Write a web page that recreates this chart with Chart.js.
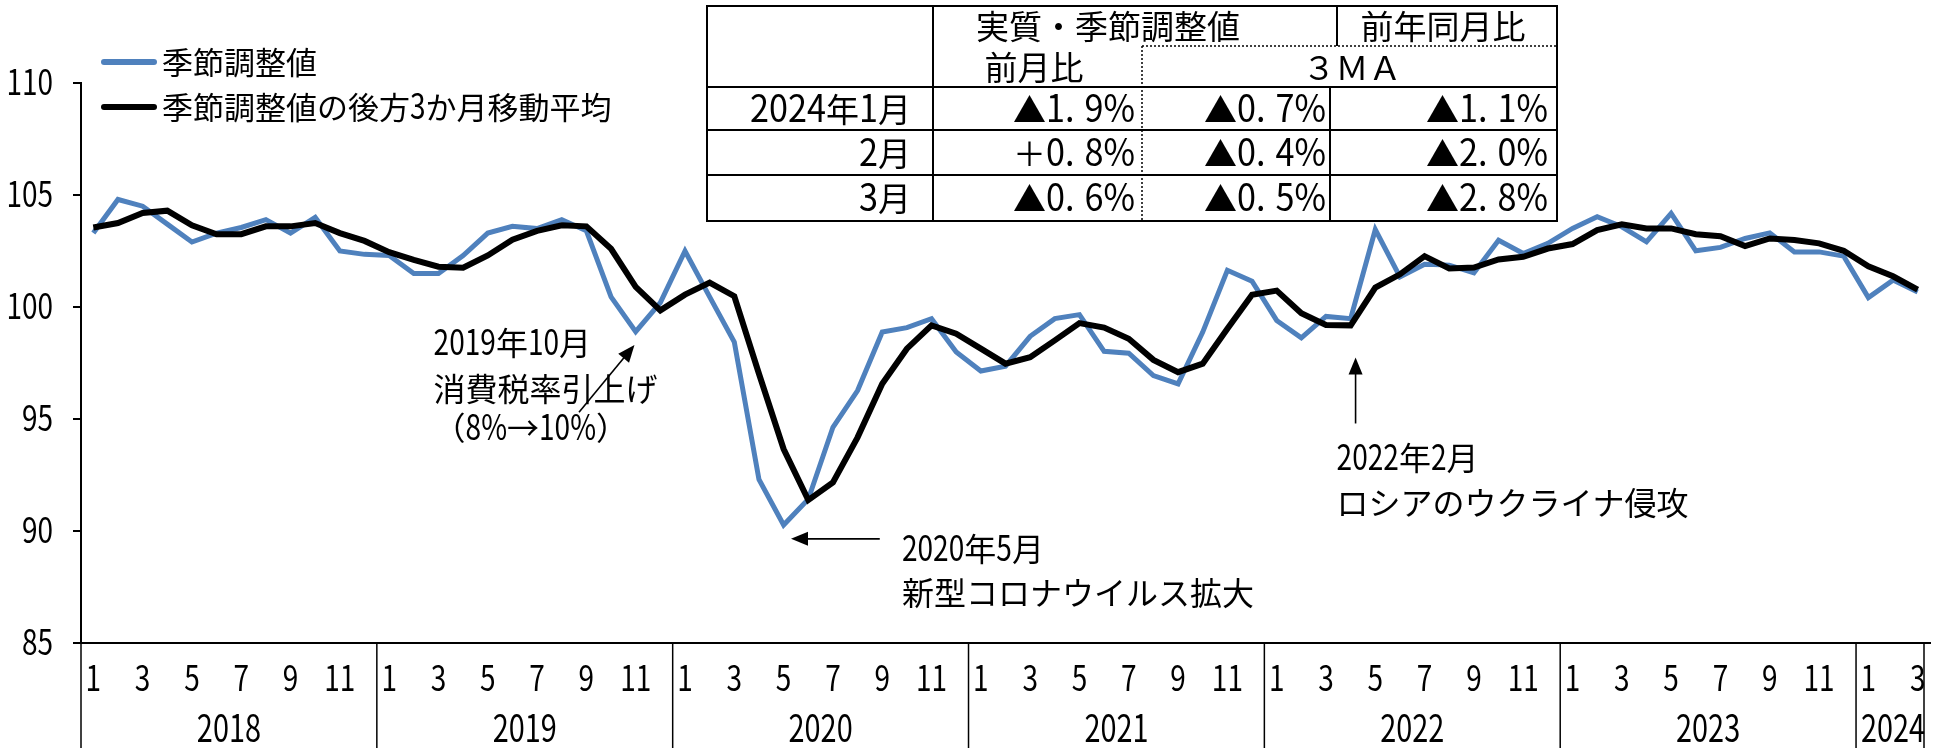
<!DOCTYPE html>
<html lang="ja">
<head>
<meta charset="UTF-8">
<title>季節調整値と後方3か月移動平均</title>
<script src="https://cdn.jsdelivr.net/npm/chart.js"></script>
<style>
    html, body { margin: 0; padding: 0; background: #fff; }
    #wrap { width: 1944px; height: 748px; }
</style>
</head>
<body>
<div id="wrap"><canvas id="chart" width="1944" height="748"></canvas></div>
<script>
    // --- data ---
    const years = ['2018', '2019', '2020', '2021', '2022', '2023', '2024'];
    const monthsInYear = [12, 12, 12, 12, 12, 12, 3];

    const seasonallyAdjusted = [
        103.3, 104.8, 104.5, 103.7, 102.9, 103.3, 103.55, 103.9, 103.3, 104.0, 102.5, 102.35,
        102.3, 101.5, 101.5, 102.3, 103.3, 103.6, 103.5, 103.9, 103.4, 100.45, 98.9, 100.2,
        102.5, 100.45, 98.43, 92.3, 90.27, 91.42, 94.63, 96.27, 98.88, 99.08, 99.48, 97.99,
        97.14, 97.36, 98.69, 99.48, 99.66, 98.02, 97.94, 96.94, 96.57, 98.88, 101.64, 101.15,
        99.4, 98.62, 99.58, 99.48, 103.46, 101.34, 101.91, 101.87, 101.52, 102.98, 102.39, 102.84,
        103.51, 104.03, 103.58, 102.91, 104.18, 102.51, 102.66, 103.06, 103.31, 102.46, 102.46, 102.27,
        100.42, 101.2, 100.67
    ];
    const movingAverage3 = [
        103.55, 103.75, 104.2, 104.3, 103.65, 103.25, 103.25, 103.6, 103.6, 103.75, 103.3, 102.95,
        102.45, 102.1, 101.8, 101.75, 102.3, 103.0, 103.4, 103.65, 103.6, 102.6, 100.9, 99.85,
        100.55, 101.09, 100.48, 97.02, 93.66, 91.38, 92.17, 94.18, 96.57, 98.14, 99.18, 98.81,
        98.14, 97.47, 97.76, 98.51, 99.28, 99.08, 98.58, 97.64, 97.09, 97.47, 99.03, 100.55,
        100.73, 99.72, 99.2, 99.18, 100.87, 101.46, 102.27, 101.72, 101.76, 102.12, 102.24, 102.61,
        102.81, 103.43, 103.69, 103.51, 103.51, 103.25, 103.16, 102.72, 103.06, 102.99, 102.84, 102.51,
        101.82, 101.37, 100.78
    ];

    const yTickValues = [85, 90, 95, 100, 105, 110];
    const monthTickLabels = ['1', '', '3', '', '5', '', '7', '', '9', '', '11', ''];

    const tableRowLabels = ['2024年1月', '2月', '3月'];
    const tableMoM = ['▲1.9%', '＋0.8%', '▲0.6%'];
    const table3MA = ['▲0.7%', '▲0.4%', '▲0.5%'];
    const tableYoY = ['▲1.1%', '▲2.0%', '▲2.8%'];

    const seriesNames = ['季節調整値', '季節調整値の後方3か月移動平均'];
    const BLUE = '#4F81BD';
    const FONT = '"Noto Sans CJK JP", sans-serif';

    // category labels built from years and month counts
    const labels = [];
    const monthOf = [];
    years.forEach((y, k) => {
        for (let m = 1; m <= monthsInYear[k]; m++) {
            labels.push(y + '/' + m);
            monthOf.push(m);
        }
    });

    // text with tall, narrow latin digits (like the original font)
    function splitRuns(text) {
        const out = [];
        for (const ch of text) {
            const latin = /[\x20-\x7e]/.test(ch);
            const last = out[out.length - 1];
            if (last && last.latin === latin) last.s += ch;
            else out.push({ s: ch, latin: latin });
        }
        return out;
    }

    function runWidth(ctx, run, o) {
        if (run.latin) {
            ctx.font = o.latin + 'px ' + FONT;
            let w = 0;
            for (const ch of run.s) w += ctx.measureText(ch).width * o.sx + (ch === '.' ? (o.dot || 0) : 0);
            return w;
        }
        ctx.font = o.cjk + 'px ' + FONT;
        return ctx.measureText(run.s).width;
    }

    function drawText(ctx, text, x, cy, align, o) {
        const runs = splitRuns(text);
        const ws = runs.map(r => runWidth(ctx, r, o));
        const total = ws.reduce((a, b) => a + b, 0);
        let cx = align === 'center' ? x - total / 2 : align === 'right' ? x - total : x;
        const base = cy + 0.33 * o.latin;
        ctx.textAlign = 'left';
        ctx.textBaseline = 'alphabetic';
        runs.forEach((r, i) => {
            if (r.latin) {
                ctx.font = o.latin + 'px ' + FONT;
                let lx = cx;
                for (const ch of r.s) {
                    ctx.save();
                    ctx.translate(lx, base);
                    ctx.scale(o.sx, 1);
                    ctx.fillText(ch, 0, 0);
                    ctx.restore();
                    lx += ctx.measureText(ch).width * o.sx + (ch === '.' ? (o.dot || 0) : 0);
                }
            } else {
                ctx.font = o.cjk + 'px ' + FONT;
                ctx.fillText(r.s, cx, base);
            }
            cx += ws[i];
        });
    }

    function line(ctx, x0, y0, x1, y1) {
        ctx.beginPath();
        ctx.moveTo(x0, y0);
        ctx.lineTo(x1, y1);
        ctx.stroke();
    }

    function arrow(ctx, x0, y0, x1, y1) {
        const ang = Math.atan2(y1 - y0, x1 - x0);
        const len = 17, w = 7;
        ctx.lineWidth = 1.6;
        line(ctx, x0, y0, x1 - Math.cos(ang) * len * 0.8, y1 - Math.sin(ang) * len * 0.8);
        ctx.beginPath();
        ctx.moveTo(x1, y1);
        ctx.lineTo(x1 - Math.cos(ang) * len - Math.sin(ang) * w, y1 - Math.sin(ang) * len + Math.cos(ang) * w);
        ctx.lineTo(x1 - Math.cos(ang) * len + Math.sin(ang) * w, y1 - Math.sin(ang) * len - Math.cos(ang) * w);
        ctx.closePath();
        ctx.fill();
    }

    const TICK = { latin: 35, cjk: 31, sx: 0.8 };
    const YEAR = { latin: 38, cjk: 31, sx: 0.76 };
    const NOTE = { latin: 36, cjk: 32, sx: 0.78 };
    const LEG = { latin: 35, cjk: 31, sx: 0.8 };
    const TAB = { latin: 38, cjk: 33, sx: 0.9, dot: 10 };

    const decorPlugin = {
        id: 'decor',
        afterDraw(chart) {
            const ctx = chart.ctx;
            const xs = chart.scales.x, ys = chart.scales.y;
            const area = chart.chartArea;
            const px = i => xs.getPixelForValue(i);
            const py = v => ys.getPixelForValue(v);
            ctx.save();
            ctx.fillStyle = '#000';
            ctx.strokeStyle = '#000';

            // y tick labels
            yTickValues.forEach(v => drawText(ctx, String(v), area.left - 28, py(v), 'right', TICK));

            // month labels
            monthOf.forEach((m, i) => {
                const t = monthTickLabels[m - 1];
                if (t) drawText(ctx, t, px(i), area.bottom + 36, 'center', TICK);
            });

            // year separators + year labels
            const half = (px(1) - px(0)) / 2;
            let start = 0;
            ctx.lineWidth = 1.5;
            years.forEach((y, k) => {
                const n = monthsInYear[k];
                const x0 = px(start) - half;
                const x1 = px(start + n - 1) + half;
                line(ctx, x0, area.bottom, x0, chart.height);
                if (k === years.length - 1) line(ctx, x1 - 6, area.bottom, x1 - 6, chart.height);
                drawText(ctx, y, (x0 + x1) / 2, area.bottom + 86, 'center', YEAR);
                start += n;
            });

            // legend
            ctx.lineWidth = 6;
            ctx.lineCap = 'round';
            ctx.strokeStyle = BLUE;
            line(ctx, 104, 62, 154, 62);
            ctx.strokeStyle = '#000';
            line(ctx, 104, 107, 154, 107);
            ctx.lineCap = 'butt';
            drawText(ctx, seriesNames[0], 162, 62, 'left', LEG);
            drawText(ctx, seriesNames[1], 162, 107, 'left', LEG);

            // annotations
            drawText(ctx, '2019年10月', px(13.8), py(98.4), 'left', NOTE);
            drawText(ctx, '消費税率引上げ', px(13.8), py(96.35), 'left', NOTE);
            drawText(ctx, '（8%→10%）', px(13.8), py(94.6), 'left', NOTE);
            arrow(ctx, px(19.7), py(95.3), px(21.95), py(98.3));

            drawText(ctx, '2020年5月', px(32.8), py(89.19), 'left', NOTE);
            drawText(ctx, '新型コロナウイルス拡大', px(32.8), py(87.22), 'left', NOTE);
            arrow(ctx, px(31.9), py(89.65), px(28.3), py(89.65));

            drawText(ctx, '2022年2月', px(50.43), py(93.27), 'left', NOTE);
            drawText(ctx, 'ロシアのウクライナ侵攻', px(50.43), py(91.26), 'left', NOTE);
            arrow(ctx, px(51.2), py(94.8), px(51.2), py(97.75));

            // table
            const L = 707, R = 1557, T = 6, B = 221;
            const c1 = 933, c2 = 1142, c3a = 1337, c3b = 1330;
            const rDot = 46, rHead = 87, r1 = 130, r2 = 175;
            ctx.fillStyle = '#fff';
            ctx.fillRect(L, T, R - L, B - T);
            ctx.fillStyle = '#000';
            ctx.lineWidth = 2;
            ctx.strokeRect(L, T, R - L, B - T);
            line(ctx, L, rHead, R, rHead);
            line(ctx, L, r1, R, r1);
            line(ctx, L, r2, R, r2);
            line(ctx, c1, T, c1, B);
            line(ctx, c3a, T, c3a, rDot);
            line(ctx, c3b, rHead, c3b, B);
            ctx.lineWidth = 1.5;
            ctx.setLineDash([2, 2]);
            line(ctx, c2, rDot, c2, B);
            line(ctx, c2, rDot, R, rDot);
            ctx.setLineDash([]);

            drawText(ctx, '実質・季節調整値', 1108, 26, 'center', TAB);
            drawText(ctx, '前年同月比', 1443, 26, 'center', TAB);
            drawText(ctx, '前月比', 1034, 67, 'center', TAB);
            drawText(ctx, '３ＭＡ', 1352, 67, 'center', TAB);
            const rowY = [109, 153, 198];
            rowY.forEach((ry, i) => {
                drawText(ctx, tableRowLabels[i], 911, ry, 'right', TAB);
                drawText(ctx, tableMoM[i], 1135, ry, 'right', TAB);
                drawText(ctx, table3MA[i], 1326, ry, 'right', TAB);
                drawText(ctx, tableYoY[i], 1548, ry, 'right', TAB);
            });
            ctx.restore();
        }
    };

    new Chart(document.getElementById('chart'), {
        type: 'line',
        data: {
            labels: labels,
            datasets: [
                {
                    label: seriesNames[0],
                    data: seasonallyAdjusted,
                    borderColor: BLUE,
                    borderWidth: 5,
                    pointRadius: 0,
                    tension: 0,
                    order: 1
                },
                {
                    label: seriesNames[1],
                    data: movingAverage3,
                    borderColor: '#000',
                    borderWidth: 6,
                    pointRadius: 0,
                    tension: 0,
                    order: 0
                }
            ]
        },
        options: {
            responsive: false,
            animation: false,
            devicePixelRatio: 1,
            layout: { padding: { top: 83, right: 14, left: 0, bottom: 0 } },
            plugins: {
                legend: { display: false },
                tooltip: { enabled: false }
            },
            scales: {
                x: {
                    offset: true,
                    ticks: { display: false },
                    grid: { display: false },
                    border: { color: '#000', width: 2 },
                    afterFit(s) { s.height = 105; }
                },
                y: {
                    min: yTickValues[0],
                    max: yTickValues[yTickValues.length - 1],
                    ticks: { stepSize: yTickValues[1] - yTickValues[0], display: false },
                    grid: {
                        drawOnChartArea: false,
                        drawTicks: true,
                        tickLength: 8,
                        color: '#000',
                        lineWidth: 2
                    },
                    border: { color: '#000', width: 2 },
                    afterFit(s) { s.width = 81; }
                }
            }
        },
        plugins: [decorPlugin]
    });
</script>
</body>
</html>
